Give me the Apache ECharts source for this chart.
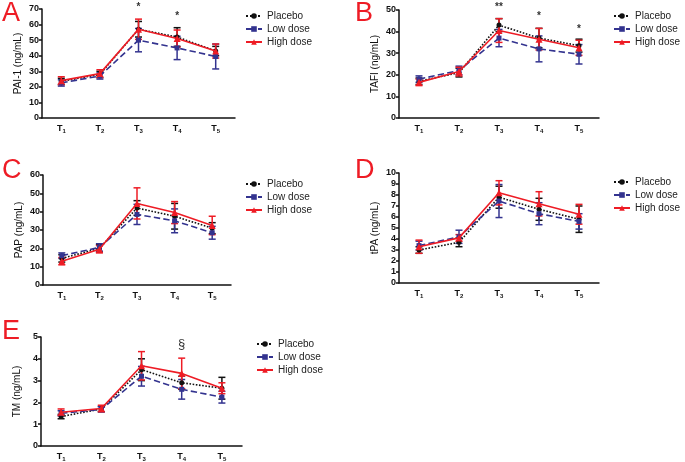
<!DOCTYPE html>
<html><head><meta charset="utf-8">
<script src="https://cdn.jsdelivr.net/npm/echarts@6/dist/echarts.min.js"></script>
<style>html,body{margin:0;padding:0;background:#fff}#c{width:685px;height:462px}</style>
</head><body><div id="c"></div>
<script>
const categories = ['T1','T2','T3','T4','T5'];
const groups = ['Placebo','Low dose','High dose'];

// PAI-1 (ng/mL)
const PAI_placebo = [23.5, 28, 57, 52, 43];
const PAI_placebo_err = [2, 2, 5, 6, 3];
const PAI_low = [22.5, 27, 50, 45, 39.5];
const PAI_low_err = [2, 2, 7.5, 7.5, 8];
const PAI_high = [24, 28.5, 57, 51, 43];
const PAI_high_err = [2.5, 2.5, 6.5, 5.5, 4.5];
const PAI_marks = [[2, 71, '*'], [3, 65.2, '*']];

// TAFI (ng/mL)
const TAFI_placebo = [17, 21, 43, 37, 33.5];
const TAFI_placebo_err = [1.5, 2, 3, 4.5, 3];
const TAFI_low = [18, 22, 37, 32, 29.5];
const TAFI_low_err = [1.5, 2, 4, 6, 4.5];
const TAFI_high = [16.5, 21.5, 40.5, 36.5, 32.5];
const TAFI_high_err = [1.5, 2, 5.5, 5, 3.5];
const TAFI_marks = [[2, 51.2, '**'], [3, 47, '*'], [4, 41, '*']];

// PAP (ng/mL)
const PAP_placebo = [14.5, 20, 42, 37.5, 31];
const PAP_placebo_err = [2, 2, 4, 7, 3];
const PAP_low = [16, 20.5, 38.5, 35, 28.5];
const PAP_low_err = [1.5, 2, 5.5, 6.5, 3.5];
const PAP_high = [13, 19.5, 44.5, 39.5, 32.5];
const PAP_high_err = [2, 2, 8.5, 6, 5];
const PAP_marks = [];

// tPA (ng/mL)
const TPA_placebo = [3.0, 3.7, 7.8, 6.7, 5.8];
const TPA_placebo_err = [0.3, 0.4, 1.0, 1.0, 1.2];
const TPA_low = [3.4, 4.2, 7.45, 6.3, 5.6];
const TPA_low_err = [0.4, 0.6, 1.5, 1.0, 0.7];
const TPA_high = [3.3, 4.1, 8.2, 7.2, 6.25];
const TPA_high_err = [0.6, 0.3, 1.1, 1.1, 0.9];
const TPA_marks = [];

// TM (ng/mL)
const TM_placebo = [1.35, 1.7, 3.5, 2.9, 2.65];
const TM_placebo_err = [0.1, 0.12, 0.5, 0.3, 0.5];
const TM_low = [1.5, 1.68, 3.2, 2.6, 2.24];
const TM_low_err = [0.12, 0.12, 0.45, 0.45, 0.27];
const TM_high = [1.55, 1.72, 3.68, 3.33, 2.65];
const TM_high_err = [0.15, 0.15, 0.65, 0.7, 0.25];
const TM_marks = [[3, 4.64, '§']];

const FONT = "'Liberation Sans', Arial, sans-serif";
const colors = ['#111111', '#33338f', '#ee1c25'];
const lineTypes = ['dotted', 'dashed', 'solid'];
const symbols = ['circle', 'rect', 'triangle'];
const symbolSizes = [5, 5, 7];

const panels = [
  {letter:'A', yname:'PAI-1 (ng/mL)', max:70, interval:10,
   data:[[PAI_placebo,PAI_placebo_err],[PAI_low,PAI_low_err],[PAI_high,PAI_high_err]], marks:PAI_marks,
   grid:{left:42, top:9, width:193, height:109}, legend:{left:245, top:11}, lpos:[2,0]},
  {letter:'B', yname:'TAFI (ng/mL)', max:50, interval:10,
   data:[[TAFI_placebo,TAFI_placebo_err],[TAFI_low,TAFI_low_err],[TAFI_high,TAFI_high_err]], marks:TAFI_marks,
   grid:{left:399, top:10, width:200, height:108}, legend:{left:613, top:11}, lpos:[355,0]},
  {letter:'C', yname:'PAP (ng/mL)', max:60, interval:10,
   data:[[PAP_placebo,PAP_placebo_err],[PAP_low,PAP_low_err],[PAP_high,PAP_high_err]], marks:PAP_marks,
   grid:{left:43, top:175, width:188, height:110}, legend:{left:245, top:179}, lpos:[2,157]},
  {letter:'D', yname:'tPA (ng/mL)', max:10, interval:1,
   data:[[TPA_placebo,TPA_placebo_err],[TPA_low,TPA_low_err],[TPA_high,TPA_high_err]], marks:TPA_marks,
   grid:{left:399, top:173, width:200, height:110}, legend:{left:613, top:177}, lpos:[355,157]},
  {letter:'E', yname:'TM (ng/mL)', max:5, interval:1,
   data:[[TM_placebo,TM_placebo_err],[TM_low,TM_low_err],[TM_high,TM_high_err]], marks:TM_marks,
   grid:{left:41, top:337, width:201, height:110}, legend:{left:256, top:339}, lpos:[2,318]}
];

const grids = [], xAxes = [], yAxes = [], series = [], legends = [], graphics = [];
panels.forEach((p, i) => {
  grids.push(Object.assign({containLabel:false}, p.grid));
  xAxes.push({
    type:'category', gridIndex:i, data:categories, boundaryGap:true,
    axisLine:{lineStyle:{color:'#111', width:1.5}},
    axisTick:{alignWithLabel:true, interval:0, length:3, lineStyle:{color:'#111', width:1.5}},
    axisLabel:{margin:5, interval:0, formatter:v => '{t|T}{s|' + v.slice(1) + '}',
      rich:{t:{fontFamily:FONT, fontSize:9, fontWeight:'bold', color:'#111'},
            s:{fontFamily:FONT, fontSize:6, fontWeight:'bold', color:'#111', padding:[5,0,0,0]}}}
  });
  yAxes.push({
    type:'value', gridIndex:i, min:0, max:p.max, interval:p.interval,
    name:p.yname, nameLocation:'middle', nameGap:19,
    nameTextStyle:{fontFamily:FONT, fontSize:10, color:'#111'},
    axisLine:{show:true, lineStyle:{color:'#111', width:1.5}},
    axisTick:{show:true, length:3, lineStyle:{color:'#111', width:1.5}},
    axisLabel:{margin:3, fontFamily:FONT, fontSize:9, fontWeight:'bold', color:'#111'},
    splitLine:{show:false}
  });
  p.data.forEach((d, g) => {
    const color = colors[g];
    series.push({
      type:'custom', xAxisIndex:i, yAxisIndex:i, z:2 + g,
      data:d[0].map((m, j) => [j, m, d[1][j]]),
      encode:{x:0, y:1},
      renderItem:(params, api) => {
        const x = api.value(0), m = api.value(1), e = api.value(2);
        const t = api.coord([x, m + e]), b = api.coord([x, m - e]);
        const hw = 3.5, st = {stroke:color, lineWidth:1.5};
        return {type:'group', children:[
          {type:'line', shape:{x1:t[0], y1:t[1], x2:b[0], y2:b[1]}, style:st},
          {type:'line', shape:{x1:t[0]-hw, y1:t[1], x2:t[0]+hw, y2:t[1]}, style:st},
          {type:'line', shape:{x1:b[0]-hw, y1:b[1], x2:b[0]+hw, y2:b[1]}, style:st}
        ]};
      }
    });
    series.push({
      type:'line', name:groups[g], xAxisIndex:i, yAxisIndex:i, z:5 + g,
      data:d[0], symbol:symbols[g], symbolSize:symbolSizes[g],
      itemStyle:{color:color},
      lineStyle:{color:color, width:1.6, type:lineTypes[g]}
    });
  });
  if (p.marks.length) {
    series.push({
      type:'custom', xAxisIndex:i, yAxisIndex:i, z:10,
      data:p.marks, encode:{x:0, y:1},
      renderItem:(params, api) => {
        const pt = api.coord([api.value(0), api.value(1)]);
        const txt = p.marks[params.dataIndex][2];
        const fs = txt === '§' ? 13 : 10;
        return {type:'text', x:pt[0], y:pt[1], style:{text:txt, fill:'#333',
          font:(txt === '§' ? 'normal ' : 'bold ') + fs + 'px ' + FONT,
          textAlign:'center', textVerticalAlign:'middle'}};
      }
    });
  }
  legends.push({
    orient:'vertical', left:p.legend.left, top:p.legend.top, data:groups,
    itemWidth:16, itemHeight:7, itemGap:3, padding:0,
    textStyle:{fontFamily:FONT, fontSize:10, color:'#222', lineHeight:10}
  });
  graphics.push({type:'text', left:p.lpos[0], top:p.lpos[1],
    style:{text:p.letter, fill:'#ee1c25', font:'27px ' + FONT}});
});

const chart = echarts.init(document.getElementById('c'), null, {renderer:'canvas'});
chart.setOption({
  animation:false, backgroundColor:'#fff',
  grid:grids, xAxis:xAxes, yAxis:yAxes, series:series, legend:legends, graphic:graphics
});
</script></body></html>
